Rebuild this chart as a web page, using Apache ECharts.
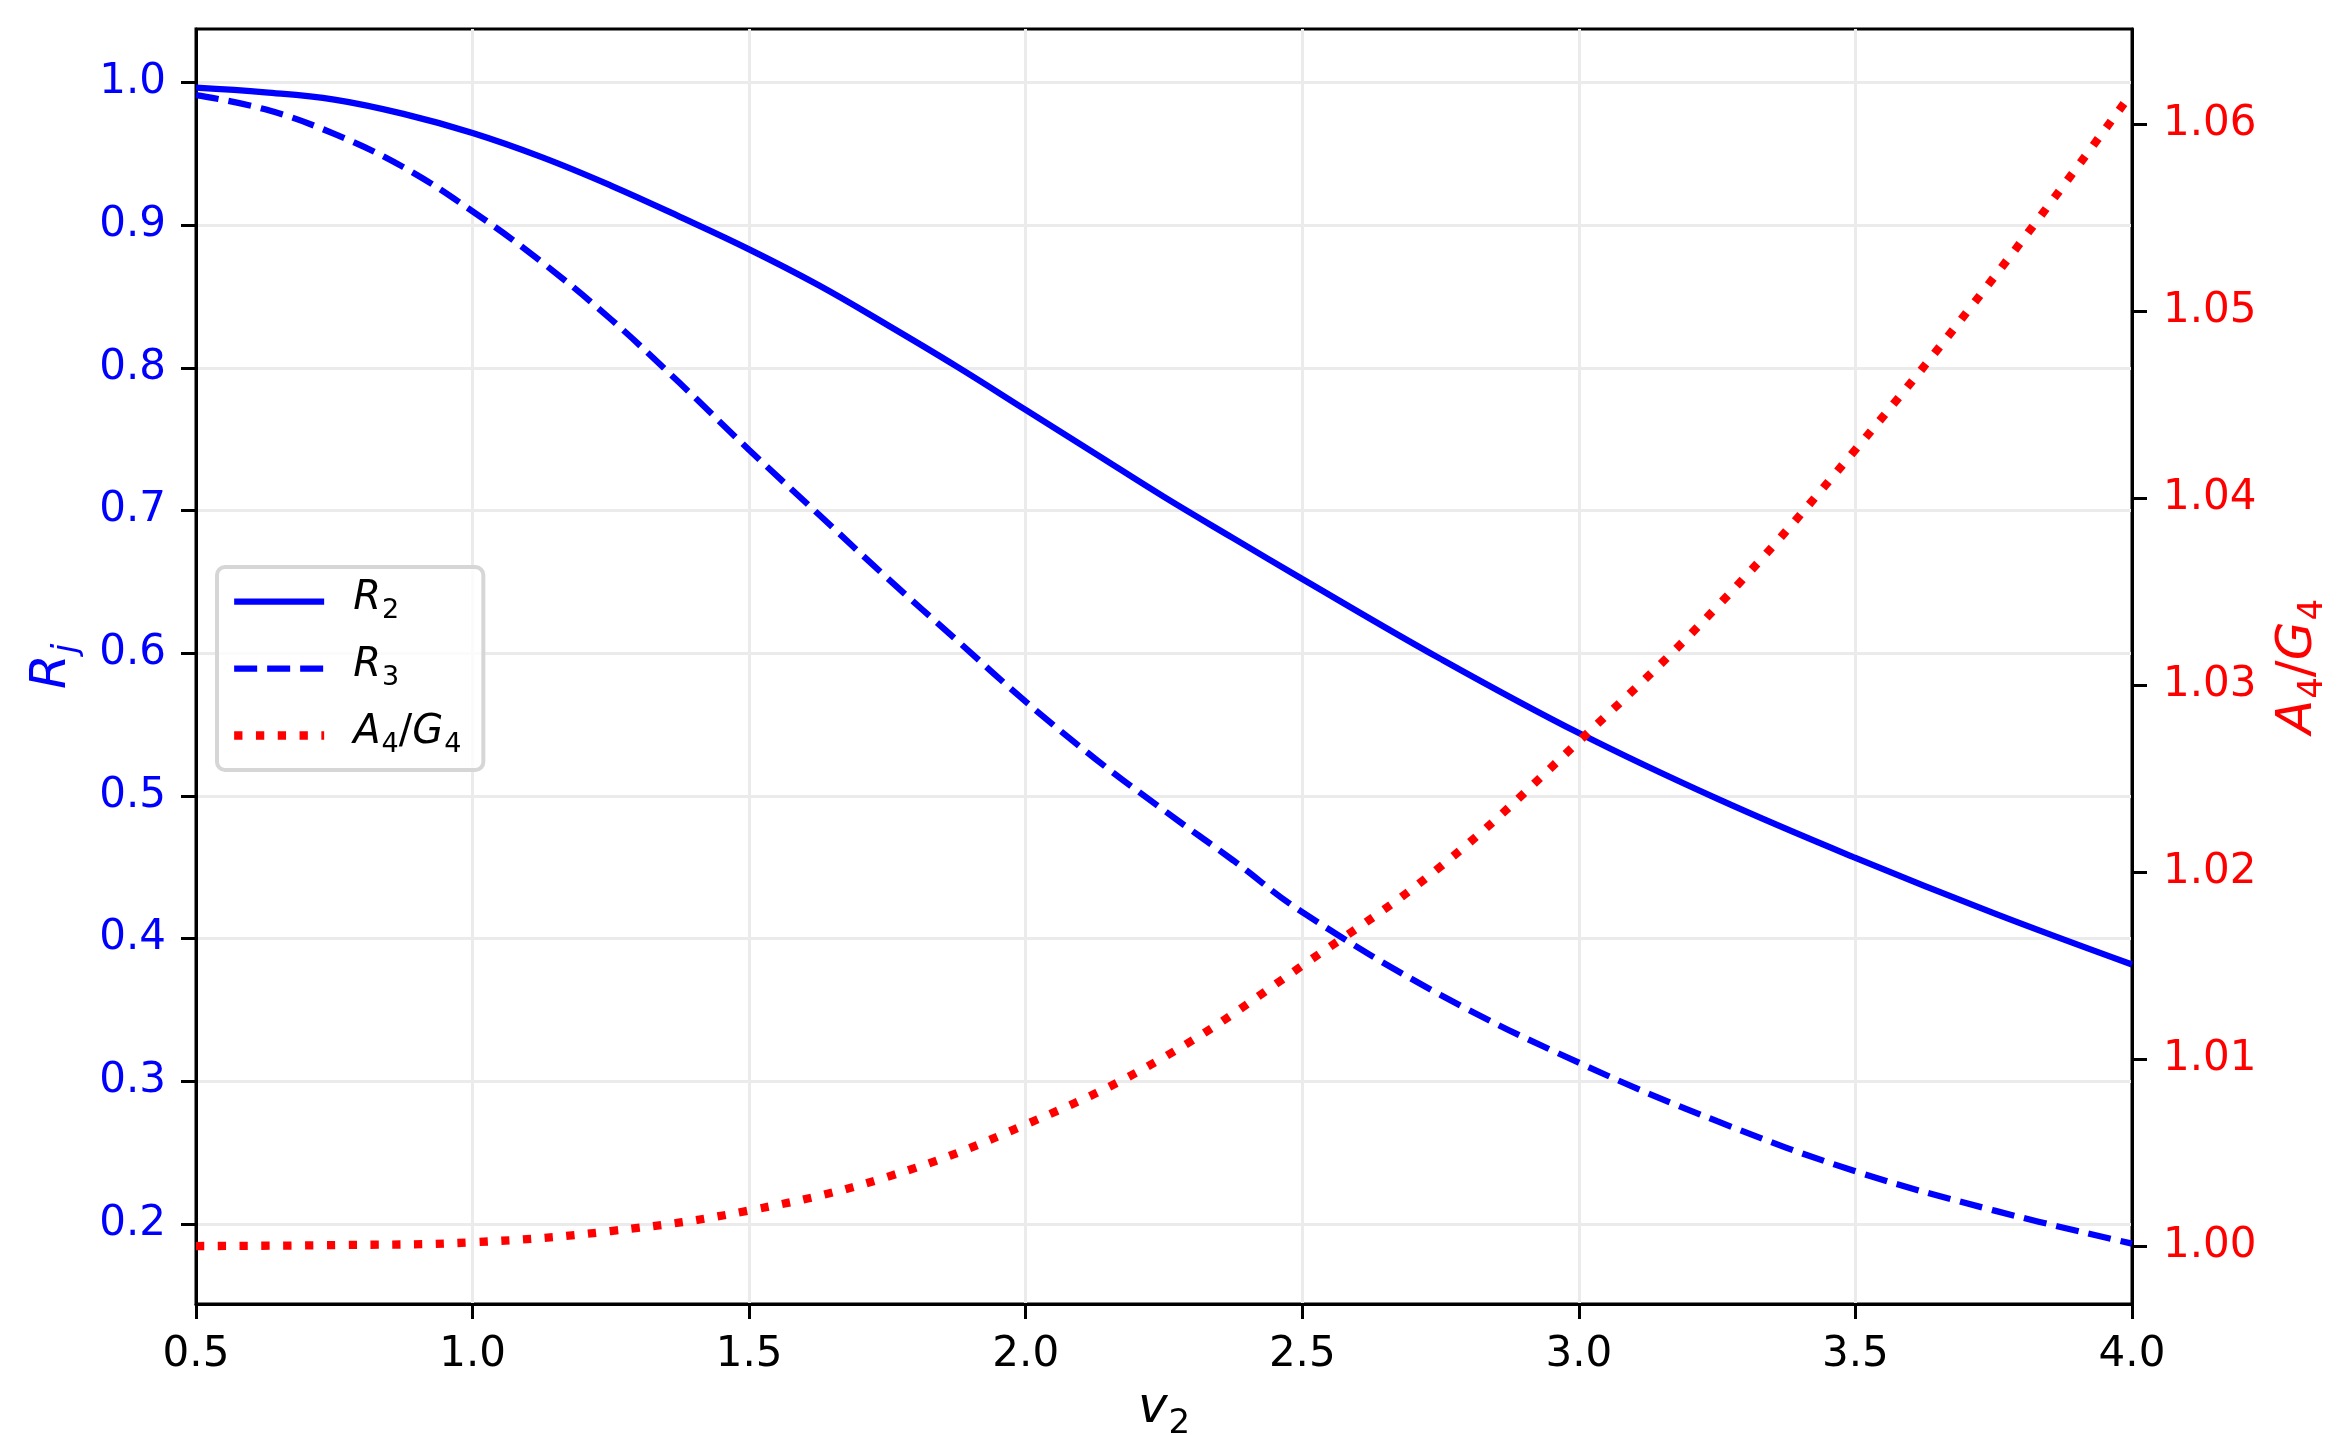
<!DOCTYPE html>
<html>
<head>
<meta charset="utf-8">
<script src="https://cdn.jsdelivr.net/npm/echarts@6/dist/echarts.min.js"></script>
<style>
  html, body { margin: 0; padding: 0; background: #fff; }
  #chart { width: 2348px; height: 1435px; }
</style>
</head>
<body>
<div id="chart"></div>
<script>
// values
// R curves were read on a finer v2 step than the A4/G4 curve
const v2R = [0.5, 0.625, 0.75, 0.875, 1.0, 1.125, 1.25, 1.375, 1.5, 1.625, 1.75, 1.875, 2.0, 2.125, 2.25, 2.375, 2.5, 2.75, 3.0, 3.25, 3.5, 3.75, 4.0]
const r2 = [0.9963, 0.9930, 0.9879, 0.9779, 0.9645, 0.9476, 0.9277, 0.9058, 0.8830, 0.8580, 0.8300, 0.8010, 0.7705, 0.7400, 0.7095, 0.6806, 0.6520, 0.5960, 0.5440, 0.4980, 0.4565, 0.4178, 0.3818]
const r3 = [0.9911, 0.9811, 0.9639, 0.9406, 0.9096, 0.8741, 0.8340, 0.7891, 0.7424, 0.6975, 0.6525, 0.6092, 0.5660, 0.5262, 0.4898, 0.4548, 0.4185, 0.3605, 0.3130, 0.2720, 0.2369, 0.2095, 0.1862]

const v2A = [0.5, 0.75, 1.0, 1.25, 1.5, 1.75, 2.0, 2.25, 2.5, 2.75, 3.0, 3.25, 3.5, 3.75, 4.0]
const a4g4 = [1.0000, 1.00005, 1.0002, 1.0008, 1.0019, 1.0037, 1.0065, 1.0101, 1.0150, 1.0203, 1.0270, 1.0342, 1.0426, 1.0518, 1.0617]

const xTicks = [0.5, 1.0, 1.5, 2.0, 2.5, 3.0, 3.5, 4.0]
const leftTicks = [0.2, 0.3, 0.4, 0.5, 0.6, 0.7, 0.8, 0.9, 1.0]
const rightTicks = [1.00, 1.01, 1.02, 1.03, 1.04, 1.05, 1.06]

const FONT = 'DejaVu Sans'
const BLUE = '#0000ff'
const RED = '#ff0000'

const pairs = (xs, ys) => xs.map((x, i) => [x, ys[i]])

// mathtext-like labels: i = italic, n = upright, s = subscript, si = italic subscript
const legendLabels = {
  'R2': '{i|R}{s|2}',
  'R3': '{i|R}{s|3}',
  'A4/G4': '{i|A}{s|4}{n|/}{i|G}{s|4}'
}

const rich = (size, color) => {
  const sub = Math.round(size * 0.68)
  const drop = Math.round(size * 0.45)
  return {
    i: { fontStyle: 'italic', fontSize: size, fontFamily: FONT, color, verticalAlign: 'top' },
    n: { fontSize: size, fontFamily: FONT, color, verticalAlign: 'top' },
    s: { fontSize: sub, fontFamily: FONT, color, verticalAlign: 'top', padding: [drop, 0, 0, 1] },
    si: { fontStyle: 'italic', fontSize: sub, fontFamily: FONT, color, verticalAlign: 'top', padding: [drop, 0, 0, 1] }
  }
}

const tickLine = { show: true, length: 15, lineStyle: { color: '#000', width: 3 } }
const axisLine = { show: true, lineStyle: { color: '#000', width: 3 } }

const solid = { color: BLUE, width: 6.25 }
const dashed = { color: BLUE, width: 6.25, type: [23, 10], cap: 'butt' }
const dotted = { color: RED, width: 8.3, type: [8.3, 13.5], cap: 'butt' }

const option = {
  animation: false,
  backgroundColor: '#fff',
  grid: {
    left: 196, top: 29, right: 216, bottom: 131,
    outerBoundsMode: 'none',
    show: true, borderColor: '#000', borderWidth: 3, backgroundColor: 'transparent'
  },
  legend: {
    orient: 'vertical',
    left: 217, top: 567,
    padding: [12, 22, 12, 13],
    itemWidth: 90, itemHeight: 40, itemGap: 22,
    backgroundColor: 'rgba(255,255,255,0.8)',
    borderColor: '#d6d6d6', borderWidth: 4, borderRadius: 8,
    itemStyle: { opacity: 0 },
    data: [
      { name: 'R2', lineStyle: solid },
      { name: 'R3', lineStyle: dashed },
      { name: 'A4/G4', lineStyle: dotted }
    ],
    formatter: (name) => legendLabels[name],
    textStyle: { padding: [0, 0, 0, 24], rich: rich(40, '#000') }
  },
  xAxis: {
    type: 'value',
    min: 0.5, max: 4.0, interval: 0.5,
    axisLine, axisTick: tickLine,
    axisLabel: {
      fontSize: 42, fontFamily: FONT, color: '#000', margin: 30,
      customValues: xTicks,
      formatter: (v) => v.toFixed(1)
    },
    splitLine: { show: true, lineStyle: { color: '#ebebeb', width: 3 } },
    name: '{i|v}{s|2}',
    nameLocation: 'middle', nameGap: 80,
    nameTextStyle: { rich: rich(50, '#000') }
  },
  yAxis: [
    {
      type: 'value', position: 'left',
      min: 0.1439, max: 1.0374,
      axisLine, axisTick: { ...tickLine, customValues: leftTicks },
      axisLabel: {
        fontSize: 42, fontFamily: FONT, color: BLUE, margin: 30,
        customValues: leftTicks,
        formatter: (v) => v.toFixed(1)
      },
      splitLine: { show: true, lineStyle: { color: '#ebebeb', width: 3 } },
      name: '{i|R}{si|j}',
      nameLocation: 'middle', nameGap: 112, nameRotate: 90,
      nameTextStyle: { rich: rich(50, BLUE) }
    },
    {
      type: 'value', position: 'right',
      min: 0.9969, max: 1.0651,
      axisLine, axisTick: { ...tickLine, customValues: rightTicks },
      axisLabel: {
        fontSize: 42, fontFamily: FONT, color: RED, margin: 31,
        customValues: rightTicks,
        formatter: (v) => v.toFixed(2)
      },
      splitLine: { show: false },
      name: '{i|A}{s|4}{n|/}{i|G}{s|4}',
      nameLocation: 'middle', nameGap: 141, nameRotate: 90,
      nameTextStyle: { rich: rich(50, RED) }
    }
  ],
  series: [
    {
      name: 'R2', type: 'line', yAxisIndex: 0, smooth: 0.4,
      symbol: 'none', showSymbol: false,
      lineStyle: solid, itemStyle: { color: BLUE },
      data: pairs(v2R, r2)
    },
    {
      name: 'R3', type: 'line', yAxisIndex: 0, smooth: 0.4,
      symbol: 'none', showSymbol: false,
      lineStyle: dashed, itemStyle: { color: BLUE },
      data: pairs(v2R, r3)
    },
    {
      name: 'A4/G4', type: 'line', yAxisIndex: 1, smooth: 0.4,
      symbol: 'none', showSymbol: false,
      lineStyle: dotted, itemStyle: { color: RED },
      data: pairs(v2A, a4g4)
    }
  ]
}

echarts.init(document.getElementById('chart')).setOption(option)
</script>
</body>
</html>
